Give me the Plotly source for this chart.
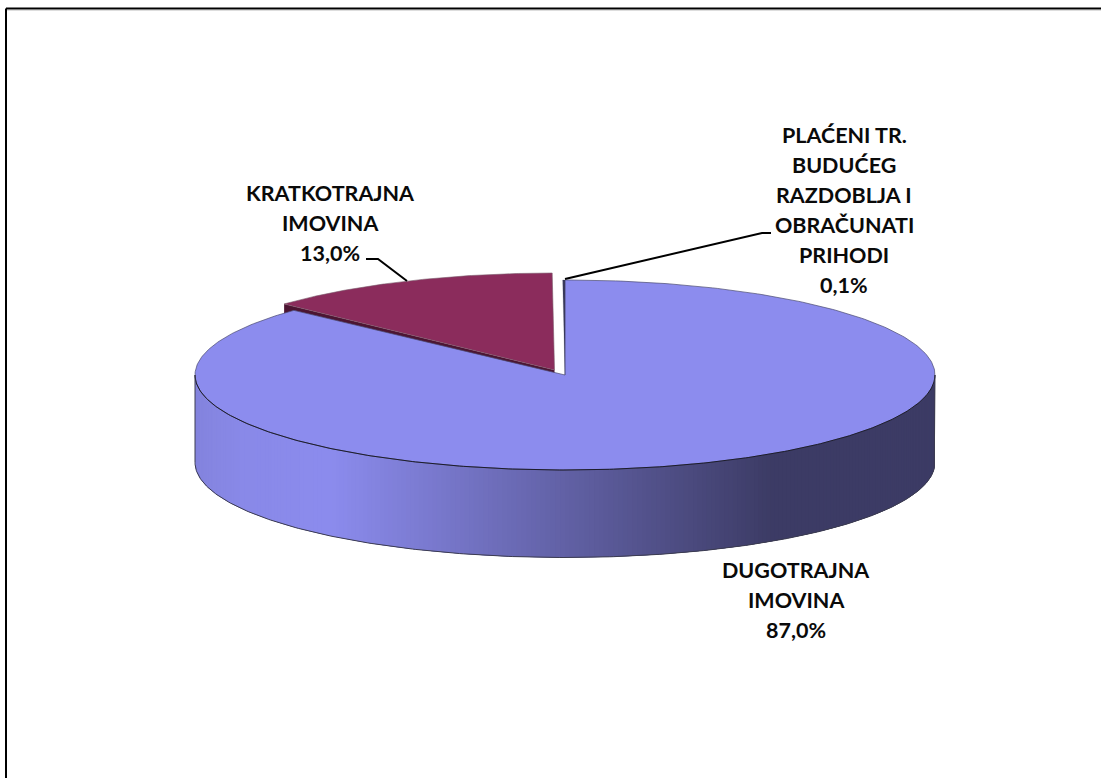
import numpy as np
import plotly.graph_objects as go

# --- data -----------------------------------------------------------------
categories = ["DUGOTRAJNA IMOVINA", "KRATKOTRAJNA IMOVINA", "PLAĆENI TR. BUDUĆEG RAZDOBLJA I OBRAČUNATI PRIHODI"]
values = [87.0, 13.0, 0.1]
value_labels = ["87,0%", "13,0%", "0,1%"]
label_lines = [
    ["DUGOTRAJNA", "IMOVINA"],
    ["KRATKOTRAJNA", "IMOVINA"],
    ["PLAĆENI TR.", "BUDUĆEG", "RAZDOBLJA I", "OBRAČUNATI", "PRIHODI"],
]

# --- styling / layout ------------------------------------------------------
W, H = 1101, 778
CX, CY, RX, RY, DEPTH = 565.0, 375.0, 370.0, 95.0, 87.5
EXPL = [(0, 0), (-10.5, -5), (0, 0)]
RADII = [(370.0, 95.0), (369.0, 97.0), (370.0, 95.0)]
TOP = ["#8C8CEE", "#8B2C5C", "#3A3A5A"]
SIDE_DARK = "#4C1532"
LBL_X = [796, 330, 844]
LBL_Y0 = [570, 193, 135]
LBL_DY = 30
RAMP = [(195, (132, 132, 222)), (240, (137, 137, 232)), (330, (140, 140, 238)),
        (770, (61, 60, 102)), (935, (60, 59, 101))]

total = sum(values)
bounds = np.cumsum([0.0] + values) / total * 2 * np.pi


def rim(t0, t1, cx, cy, rx, ry, n=160):
    t = np.linspace(t0, t1, n)
    return cx + rx * np.sin(t), cy - ry * np.cos(t)


def ramp_color(x):
    xs = [p[0] for p in RAMP]
    return "rgb(%d,%d,%d)" % tuple(np.interp(x, xs, [p[1][i] for p in RAMP]) for i in range(3))


fig = go.Figure()


def poly(xs, ys, fill, line=None, width=0.0):
    fig.add_trace(go.Scatter(
        x=list(xs), y=list(ys), mode="lines", fill="toself", fillcolor=fill,
        line=dict(color=line or fill, width=width), hoverinfo="skip", showlegend=False))


def stroke(xs, ys, color="#2A2A3C", width=1.0):
    fig.add_trace(go.Scatter(
        x=list(xs), y=list(ys), mode="lines", line=dict(color=color, width=width),
        hoverinfo="skip", showlegend=False))


# exploded slice: its extruded side lies behind the big slice
dx, dy = EXPL[1]
rx1, ry1 = RADII[1]
cx1, cy1 = CX + dx, CY + dy
rx_k, ry_k = rim(bounds[1], bounds[2], cx1, cy1, rx1, ry1)
poly([cx1, rx_k[0], rx_k[0], cx1], [cy1, ry_k[0], ry_k[0] + DEPTH, cy1 + DEPTH], SIDE_DARK)

# front wall of the big slice, built as overlapping vertical strips drawn left to right
edges = np.linspace(3 * np.pi / 2, np.pi / 2, 241)
for i in range(len(edges) - 1):
    j = min(i + 3, len(edges) - 1)
    xa, ya = rim(edges[i], edges[j], CX, CY, RX, RY, n=6)
    col = ramp_color(0.5 * (RX * np.sin(edges[i]) + RX * np.sin(edges[i + 1])) + CX)
    poly(list(xa) + list(xa[::-1]), list(ya) + list(ya[::-1] + DEPTH), col)

# top faces
xb, yb = rim(bounds[0], bounds[1], CX, CY, RX, RY, n=400)
poly([CX] + list(xb) + [CX], [CY] + list(yb) + [CY], TOP[0], line="#4A4A70", width=0.7)
poly([cx1] + list(rx_k) + [cx1], [cy1] + list(ry_k) + [cy1], TOP[1], line="#7A5A6C", width=0.6)
xs_, ys_ = rim(bounds[2], bounds[3], CX, CY, RX, RY, n=5)
poly([CX] + list(xs_) + [CX], [CY] + list(ys_) + [CY], TOP[2], line="#3A3A5A", width=0.2)

# outlines of the wall
xf, yf = rim(np.pi / 2, 3 * np.pi / 2, CX, CY, RX, RY, n=300)
stroke(xf, yf, "#1C1C2C", 1.0)
stroke([xf[0]] + list(xf) + [xf[-1]], [yf[0]] + list(yf + DEPTH) + [yf[-1]], "#3C3C50", 1.0)

# labels, one text per line to keep the original line spacing
for i, lines in enumerate(label_lines):
    for j, txt in enumerate(lines + [value_labels[i]]):
        fig.add_annotation(x=LBL_X[i], y=LBL_Y0[i] + j * LBL_DY, text=txt, showarrow=False,
                           xanchor="center", yanchor="middle",
                           font=dict(family="Lato", size=21.5, color="#0A0A0A", weight="bold"))

shapes = [
    # frame (left and top only)
    dict(type="line", x0=6, x1=6, y0=8.5, y1=H, line=dict(color="black", width=2)),
    dict(type="line", x0=6, x1=W, y0=8.5, y1=8.5, line=dict(color="black", width=2)),
    dict(type="line", x0=7, x1=W, y0=10.5, y1=10.5, line=dict(color="#DDDDDD", width=1)),
    # leader lines
    dict(type="path", path="M 366 259 L 378 259 L 407 281", line=dict(color="black", width=2)),
    dict(type="path", path="M 565 279 L 762 233 L 771 233", line=dict(color="black", width=2)),
]

fig.update_layout(
    width=W, height=H, margin=dict(l=0, r=0, t=0, b=0),
    paper_bgcolor="white", plot_bgcolor="white", showlegend=False, shapes=shapes,
    xaxis=dict(range=[0, W], visible=False, fixedrange=True),
    yaxis=dict(range=[H, 0], visible=False, fixedrange=True),
)
fig.write_html("out.html", post_script="document.body.style.margin='0';document.documentElement.style.overflow='hidden';",
               config={"displayModeBar": False})
